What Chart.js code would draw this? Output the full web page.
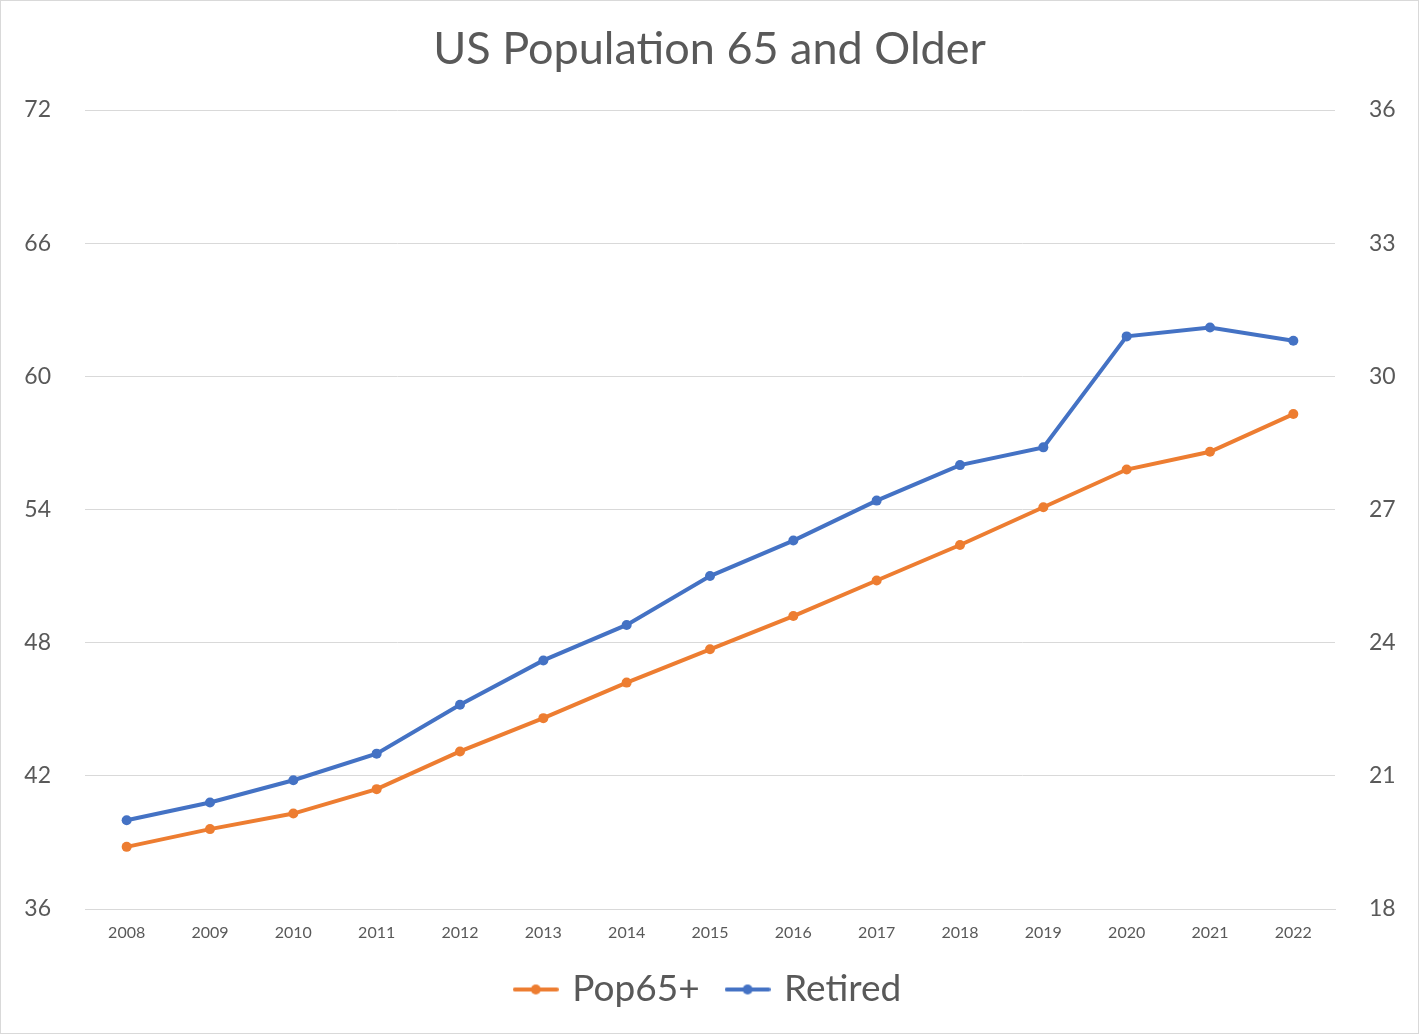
<!DOCTYPE html>
<html>
<head>
<meta charset="utf-8">
<script src="https://cdn.jsdelivr.net/npm/chart.js@4"></script>
<style>
  html, body { margin: 0; padding: 0; background: #fff; }
  #wrap { width: 1419px; height: 1034px; box-sizing: border-box; border: 1px solid #d9d9d9; }
  canvas { display: block; }
</style>
</head>
<body>
<div id="wrap"><canvas id="popChart" width="1417" height="1032"></canvas></div>
<script>
const years = ["2008", "2009", "2010", "2011", "2012", "2013", "2014", "2015",
               "2016", "2017", "2018", "2019", "2020", "2021", "2022"];
const pop65 = [38.8, 39.6, 40.3, 41.4, 43.1, 44.6, 46.2, 47.7, 49.2, 50.8, 52.4, 54.1, 55.8, 56.6, 58.3];
const retired = [20.0, 20.4, 20.9, 21.5, 22.6, 23.6, 24.4, 25.5, 26.3, 27.2, 28.0, 28.4, 30.9, 31.1, 30.8];
const leftTicks = [36, 42, 48, 54, 60, 66, 72];
const rightTicks = [18, 21, 24, 27, 30, 33, 36];

const textColor = "#595959";
const gridColor = "#d9d9d9";
const fontFamily = "Lato, 'Open Sans', sans-serif";

// legend marker: short line with a dot, like Excel
function legendMarker(color) {
  const c = document.createElement("canvas");
  c.width = 46; c.height = 14;
  const g = c.getContext("2d");
  g.strokeStyle = color;
  g.lineWidth = 4;
  g.lineCap = "round";
  g.beginPath(); g.moveTo(2, 7); g.lineTo(44, 7); g.stroke();
  g.fillStyle = color;
  g.beginPath(); g.arc(23, 7, 5, 0, Math.PI * 2); g.fill();
  return c;
}

const orange = "#ED7D31";
const blue = "#4472C4";

const ctx = document.getElementById("popChart").getContext("2d");
const popChart = new Chart(ctx, {
  type: "line",
  data: {
    labels: years,
    datasets: [
      {
        label: "Pop65+",
        data: pop65,
        yAxisID: "yLeft",
        borderColor: orange,
        backgroundColor: orange,
        borderWidth: 4,
        pointRadius: 5,
        pointBorderWidth: 0,
        tension: 0
      },
      {
        label: "Retired",
        data: retired,
        yAxisID: "yRight",
        borderColor: blue,
        backgroundColor: blue,
        borderWidth: 4,
        pointRadius: 5,
        pointBorderWidth: 0,
        tension: 0
      }
    ]
  },
  options: {
    responsive: false,
    animation: false,
    layout: { padding: { left: 0, right: 0, top: 0, bottom: 15 } },
    plugins: {
      tooltip: { enabled: false },
      title: {
        display: true,
        text: "US Population 65 and Older",
        color: textColor,
        font: { family: fontFamily, size: 45, weight: "normal" },
        padding: { top: 21, bottom: 34 }
      },
      legend: {
        position: "bottom",
        labels: {
          color: textColor,
          font: { family: fontFamily, size: 37 },
          usePointStyle: true,
          pointStyleWidth: 36,
          padding: 30,
          generateLabels(chart) {
            return chart.data.datasets.map((ds, i) => ({
              text: ds.label,
              fontColor: textColor,
              pointStyle: legendMarker(ds.borderColor),
              lineWidth: 0,
              strokeStyle: ds.borderColor,
              fillStyle: ds.borderColor,
              datasetIndex: i,
              hidden: false
            }));
          }
        }
      }
    },
    scales: {
      x: {
        offset: true,
        afterFit(axis) { axis.height = 32; },
        grid: { display: false, drawTicks: false },
        border: { color: gridColor, width: 1 },
        ticks: {
          color: textColor,
          font: { family: fontFamily, size: 16 },
          padding: 14,
          maxRotation: 0,
          autoSkip: false
        }
      },
      yLeft: {
        position: "left",
        min: 36,
        max: 72,
        afterBuildTicks(axis) { axis.ticks = leftTicks.map(v => ({ value: v })); },
        afterFit(axis) { axis.width = 84; },
        grid: { color: gridColor, drawTicks: false, lineWidth: 1 },
        border: { display: false },
        ticks: {
          color: textColor,
          font: { family: fontFamily, size: 23 },
          padding: 34
        }
      },
      yRight: {
        position: "right",
        min: 18,
        max: 36,
        afterBuildTicks(axis) { axis.ticks = rightTicks.map(v => ({ value: v })); },
        afterFit(axis) { axis.width = 83; },
        grid: { display: false, drawTicks: false },
        border: { display: false },
        ticks: {
          color: textColor,
          font: { family: fontFamily, size: 23 },
          padding: 34
        }
      }
    }
  }
});
</script>
</body>
</html>
